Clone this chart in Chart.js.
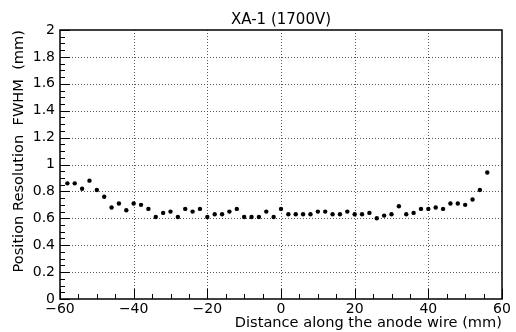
<!DOCTYPE html>
<html>
<head>
<meta charset="utf-8">
<script src="https://cdn.jsdelivr.net/npm/chart.js@4/dist/chart.umd.min.js"></script>
<style>
  html, body { margin: 0; padding: 0; background: #fff; }
  #wrap { width: 516px; height: 332px; }
  canvas { display: block; }
</style>
</head>
<body>
<div id="wrap"><canvas id="c" width="516" height="332"></canvas></div>
<script>
// ---- data ----
const chartTitle = 'XA-1 (1700V)';
const xTitle = 'Distance along the anode wire (mm)';
const yTitle = 'Position Resolution  FWHM  (mm)';

const positions = [
  -58, -56, -54, -52, -50, -48, -46, -44, -42, -40,
  -38, -36, -34, -32, -30, -28, -26, -24, -22, -20,
  -18, -16, -14, -12, -10, -8, -6, -4, -2, 0,
  2, 4, 6, 8, 10, 12, 14, 16, 18, 20,
  22, 24, 26, 28, 30, 32, 34, 36, 38, 40,
  42, 44, 46, 48, 50, 52, 54, 56
];
const fwhm = [
  0.86, 0.86, 0.82, 0.88, 0.81, 0.76, 0.68, 0.71, 0.66, 0.71,
  0.70, 0.67, 0.61, 0.64, 0.65, 0.61, 0.67, 0.65, 0.67, 0.61,
  0.63, 0.63, 0.65, 0.67, 0.61, 0.61, 0.61, 0.65, 0.61, 0.67,
  0.63, 0.63, 0.63, 0.63, 0.65, 0.65, 0.63, 0.63, 0.65, 0.63,
  0.63, 0.64, 0.60, 0.62, 0.63, 0.69, 0.63, 0.64, 0.67, 0.67,
  0.68, 0.67, 0.71, 0.71, 0.70, 0.74, 0.81, 0.94
];

const xTickValues = [-60, -40, -20, 0, 20, 40, 60];
const xTickLabels = ['\u221260', '\u221240', '\u221220', '0', '20', '40', '60'];
const yTickValues = [0, 0.2, 0.4, 0.6, 0.8, 1, 1.2, 1.4, 1.6, 1.8, 2];
const yTickLabels = ['0', '0.2', '0.4', '0.6', '0.8', '1', '1.2', '1.4', '1.6', '1.8', '2'];

const FONT = '"DejaVu Sans", "Liberation Sans", sans-serif';

// ---- ROOT-like frame, dotted grid and inward ticks ----
const rootFrame = {
  id: 'rootFrame',
  beforeDatasetsDraw(chart) {
    const {ctx, chartArea: a, scales: {x, y}} = chart;
    ctx.save();
    ctx.strokeStyle = '#555';
    ctx.lineWidth = 1;
    ctx.setLineDash([1, 2]);
    xTickValues.forEach(v => {
      const px = Math.round(x.getPixelForValue(v)) + 0.5;
      if (px <= a.left + 1 || px >= a.right - 1) return;
      ctx.beginPath(); ctx.moveTo(px, a.top); ctx.lineTo(px, a.bottom); ctx.stroke();
    });
    yTickValues.forEach(v => {
      const py = Math.round(y.getPixelForValue(v)) + 0.5;
      if (py <= a.top + 1 || py >= a.bottom - 1) return;
      ctx.beginPath(); ctx.moveTo(a.left, py); ctx.lineTo(a.right, py); ctx.stroke();
    });
    ctx.setLineDash([]);
    // minor / major ticks (inside the frame)
    ctx.strokeStyle = '#000';
    ctx.lineWidth = 1;
    for (let i = 0; i <= Math.round((y.max - y.min) / 0.05); i++) {
      const v = y.min + i * 0.05;
      const major = i % 4 === 0;
      const py = Math.round(y.getPixelForValue(v)) + 0.5;
      ctx.beginPath(); ctx.moveTo(a.left, py); ctx.lineTo(a.left + (major ? 10 : 5), py); ctx.stroke();
    }
    for (let i = 0; i <= Math.round((x.max - x.min) / 5); i++) {
      const v = x.min + i * 5;
      const major = i % 4 === 0;
      const px = Math.round(x.getPixelForValue(v)) + 0.5;
      ctx.beginPath(); ctx.moveTo(px, a.bottom); ctx.lineTo(px, a.bottom - (major ? 10 : 5)); ctx.stroke();
    }
    ctx.lineWidth = 1.5;
    ctx.strokeRect(a.left, a.top, a.right - a.left, a.bottom - a.top);
    ctx.restore();
  }
};

new Chart(document.getElementById('c'), {
  type: 'scatter',
  data: {
    datasets: [{
      data: positions.map((p, i) => ({x: p, y: fwhm[i]})),
      backgroundColor: '#000',
      borderColor: '#000',
      borderWidth: 0,
      pointRadius: 2.2,
      pointHoverRadius: 2.2,
      pointStyle: 'circle'
    }]
  },
  options: {
    responsive: false,
    animation: false,
    devicePixelRatio: 1,
    layout: { padding: { top: 0, right: 14, left: 0, bottom: 0 } },
    plugins: {
      legend: { display: false },
      tooltip: { enabled: false },
      title: {
        display: true,
        text: chartTitle,
        fullSize: false,
        color: '#000',
        font: { family: FONT, size: 15, weight: 'normal', lineHeight: 16 / 15 },
        padding: { top: 12, bottom: 2 }
      }
    },
    scales: {
      x: {
        type: 'linear',
        min: -60, max: 60,
        afterFit(s) { s.height = 33; },
        afterBuildTicks(s) { s.ticks = xTickValues.map(v => ({value: v})); },
        grid: { display: false, drawTicks: false },
        border: { display: false },
        ticks: {
          color: '#000',
          padding: 2,
          maxRotation: 0,
          autoSkip: false,
          font: { family: FONT, size: 14 },
          callback(v) { const i = xTickValues.indexOf(v); return i >= 0 ? xTickLabels[i] : ''; }
        },
        title: {
          display: true,
          text: xTitle,
          align: 'end',
          color: '#000',
          font: { family: FONT, size: 14.6, lineHeight: 1.2 },
          padding: { top: 0, bottom: 0 }
        }
      },
      y: {
        type: 'linear',
        min: 0, max: 2,
        afterFit(s) { s.width = 60; },
        afterBuildTicks(s) { s.ticks = yTickValues.map(v => ({value: v})); },
        grid: { display: false, drawTicks: false },
        border: { display: false },
        ticks: {
          color: '#000',
          padding: 5,
          autoSkip: false,
          font: { family: FONT, size: 14 },
          callback(v) {
            const i = yTickValues.findIndex(t => Math.abs(t - v) < 1e-9);
            return i >= 0 ? yTickLabels[i] : '';
          }
        },
        title: {
          display: true,
          text: yTitle,
          align: 'end',
          color: '#000',
          font: { family: FONT, size: 14.6, lineHeight: 1.2 },
          padding: { top: 10, bottom: 0 }
        }
      }
    }
  },
  plugins: [rootFrame]
});
</script>
</body>
</html>
